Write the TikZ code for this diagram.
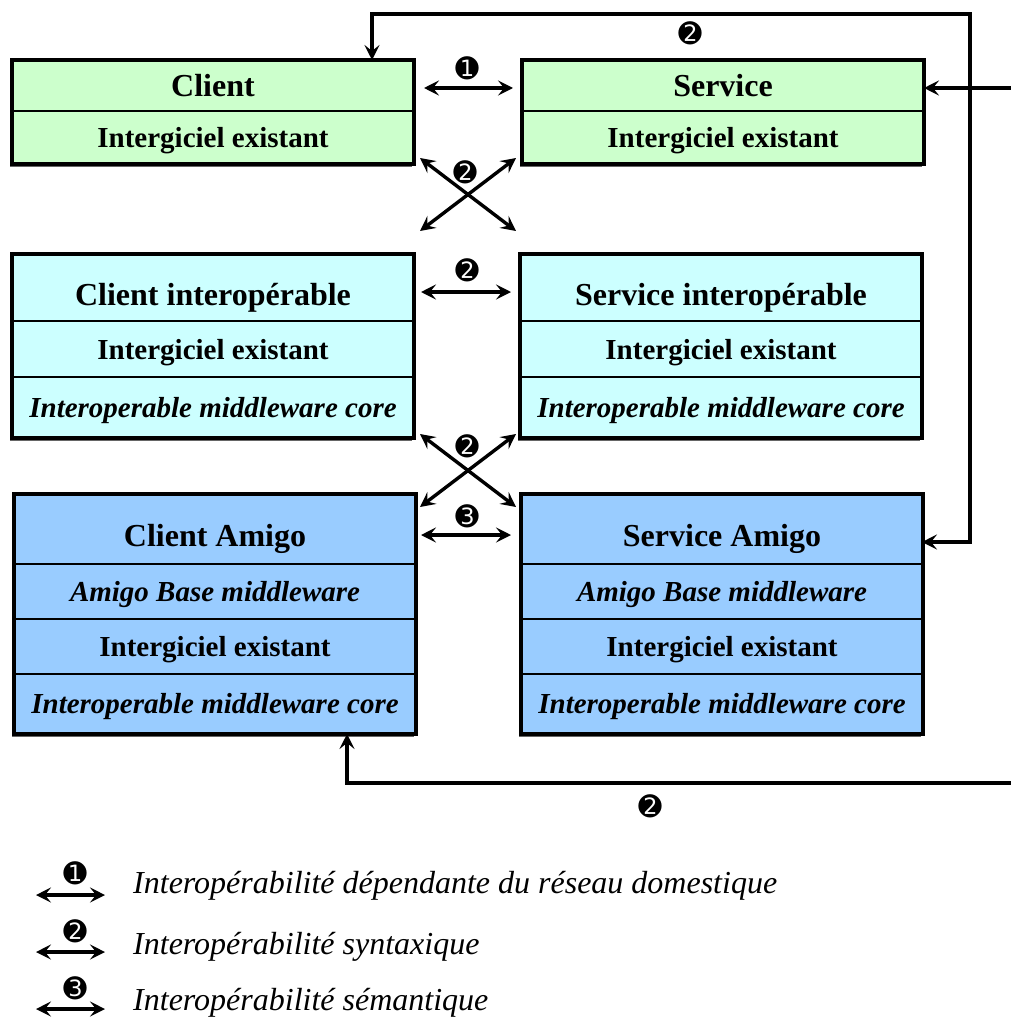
\documentclass[tikz,border=0pt]{standalone}
\usepackage{fontspec}
\setmainfont{Liberation Serif}
\newfontfamily\djfont{DejaVu Sans}
\usetikzlibrary{arrows.meta,backgrounds}
\definecolor{gr}{HTML}{CCFFCC}
\definecolor{cy}{HTML}{CCFFFF}
\definecolor{bl}{HTML}{99CCFF}
\begin{document}
\begin{tikzpicture}[x=1pt,y=-1pt,
  cell/.style={draw=black, line width=2pt, minimum width=400pt, inner sep=0pt, anchor=north west},
  ttl/.style={cell, font=\fontsize{32}{34}\selectfont\bfseries, text height=25pt, text depth=3pt},
  ttllow/.style={ttl, text height=37pt},
  lay/.style={cell, font=\fontsize{29}{32}\selectfont\bfseries, text height=23pt, text depth=3pt},
  ilay/.style={lay, font=\fontsize{29}{32}\selectfont\bfseries\itshape},
  outer/.style={draw=black, line width=3.6pt},
  shad/.style={fill=black!60},
  arr/.style={line width=3.4pt, {Stealth[length=15pt,width=15pt,inset=6pt]}-{Stealth[length=15pt,width=15pt,inset=6pt]}},
  arrone/.style={line width=3.4pt, -{Stealth[length=15pt,width=15pt,inset=6pt]}},
  num/.style={font=\fontsize{28}{28}\selectfont\djfont, inner sep=0pt},
  leg/.style={anchor=west, inner sep=0pt, font=\fontsize{32}{34}\selectfont\itshape}
]
\useasboundingbox (0,0) rectangle (1010,1022);

% Row 1
\node[ttl, fill=gr, minimum height=50pt] (c1a) at (12,60) {Client};
\node[lay, fill=gr, minimum height=52pt] (c1b) at (12,110) {Intergiciel existant};
\node[ttl, fill=gr, minimum height=50pt] (s1a) at (522,60) {Service};
\node[lay, fill=gr, minimum height=52pt] (s1b) at (522,110) {Intergiciel existant};

% Row 2
\node[ttllow, fill=cy, minimum height=66pt] (c2a) at (12,254) {Client interopérable};
\node[lay, fill=cy, minimum height=56pt] (c2b) at (12,320) {Intergiciel existant};
\node[ilay, fill=cy, minimum height=60pt] (c2c) at (12,376) {Interoperable middleware core};
\node[ttllow, fill=cy, minimum height=66pt] (s2a) at (520,254) {Service interopérable};
\node[lay, fill=cy, minimum height=56pt] (s2b) at (520,320) {Intergiciel existant};
\node[ilay, fill=cy, minimum height=60pt] (s2c) at (520,376) {Interoperable middleware core};

% Row 3
\node[ttllow, fill=bl, minimum height=69pt] (c3a) at (14,494) {Client Amigo};
\node[ilay, fill=bl, minimum height=55pt] (c3b) at (14,563) {Amigo Base middleware};
\node[lay, fill=bl, minimum height=55pt] (c3c) at (14,618) {Intergiciel existant};
\node[ilay, fill=bl, minimum height=59pt] (c3d) at (14,673) {Interoperable middleware core};
\node[ttllow, fill=bl, minimum height=69pt] (s3a) at (521,494) {Service Amigo};
\node[ilay, fill=bl, minimum height=55pt] (s3b) at (521,563) {Amigo Base middleware};
\node[lay, fill=bl, minimum height=55pt] (s3c) at (521,618) {Intergiciel existant};
\node[ilay, fill=bl, minimum height=59pt] (s3d) at (521,673) {Interoperable middleware core};

% outer frames
\foreach \a/\b in {c1a/c1b,s1a/s1b,c2a/c2c,s2a/s2c,c3a/c3d,s3a/s3d}{
  \draw[outer] (\a.north west) rectangle (\b.south east);
}
\begin{scope}[on background layer]
\foreach \a/\b in {c1a/c1b,s1a/s1b,c2a/c2c,s2a/s2c,c3a/c3d,s3a/s3d}{
  \fill[shad] ([xshift=-2pt,yshift=-3pt]\a.north west) rectangle ([xshift=-2pt,yshift=-3pt]\b.south east);
}
\end{scope}

% horizontal arrows
\coordinate (h1a) at (424,88); \coordinate (h1b) at (513,88);
\draw[arr] (h1a) -- (h1b);
\node[num] (n1) at (467,68) {➊};
\coordinate (h2a) at (421,292); \coordinate (h2b) at (511,292);
\draw[arr] (h2a) -- (h2b);
\node[num] (n2) at (467,270) {➋};
\coordinate (h3a) at (421,535); \coordinate (h3b) at (511,535);
\draw[arr] (h3a) -- (h3b);
\node[num] (n3) at (467,516) {➌};

% crosses
\coordinate (x1a) at (420,158); \coordinate (x1b) at (516,231);
\coordinate (x1c) at (516,158); \coordinate (x1d) at (420,231);
\draw[arr] (x1a) -- (x1b);
\draw[arr] (x1c) -- (x1d);
\node[num] (n4) at (465,172) {➋};
\coordinate (x2a) at (420,434); \coordinate (x2b) at (516,507);
\coordinate (x2c) at (516,434); \coordinate (x2d) at (420,507);
\draw[arr] (x2a) -- (x2b);
\draw[arr] (x2c) -- (x2d);
\node[num] (n5) at (467,446) {➋};

% loops
\coordinate (tl) at (372,14); \coordinate (tr) at (970,14);
\coordinate (sa) at (922,542);
\draw[arr] (c1a.north -| tl) -- (tl) -- (tr) -- (tr |- sa) -- (sa);
\node[num] (n6) at (690,33) {➋};
\coordinate (re1) at (1015,88);
\draw[arrone] (re1) -- (re1 -| s1a.east);
\coordinate (re2) at (1015,783); \coordinate (bl) at (347,783);
\draw[arrone] (re2) -- (bl) -- (bl |- c3d.south);
\node[num] (n7) at (650,806) {➋};

% legend
\coordinate (l1a) at (36,895); \coordinate (l1b) at (105,895);
\draw[arr] (l1a) -- (l1b);
\node[num] (ln1) at (75,873) {➊};
\node[leg] (lt1) at (133,886) {Interopérabilité dépendante du réseau domestique};
\coordinate (l2a) at (36,952); \coordinate (l2b) at (105,952);
\draw[arr] (l2a) -- (l2b);
\node[num] (ln2) at (75,931) {➋};
\node[leg] (lt2) at (133,947) {Interopérabilité syntaxique};
\coordinate (l3a) at (36,1009); \coordinate (l3b) at (105,1009);
\draw[arr] (l3a) -- (l3b);
\node[num] (ln3) at (75,988) {➌};
\node[leg] (lt3) at (133,1003) {Interopérabilité sémantique};
\end{tikzpicture}
\end{document}
